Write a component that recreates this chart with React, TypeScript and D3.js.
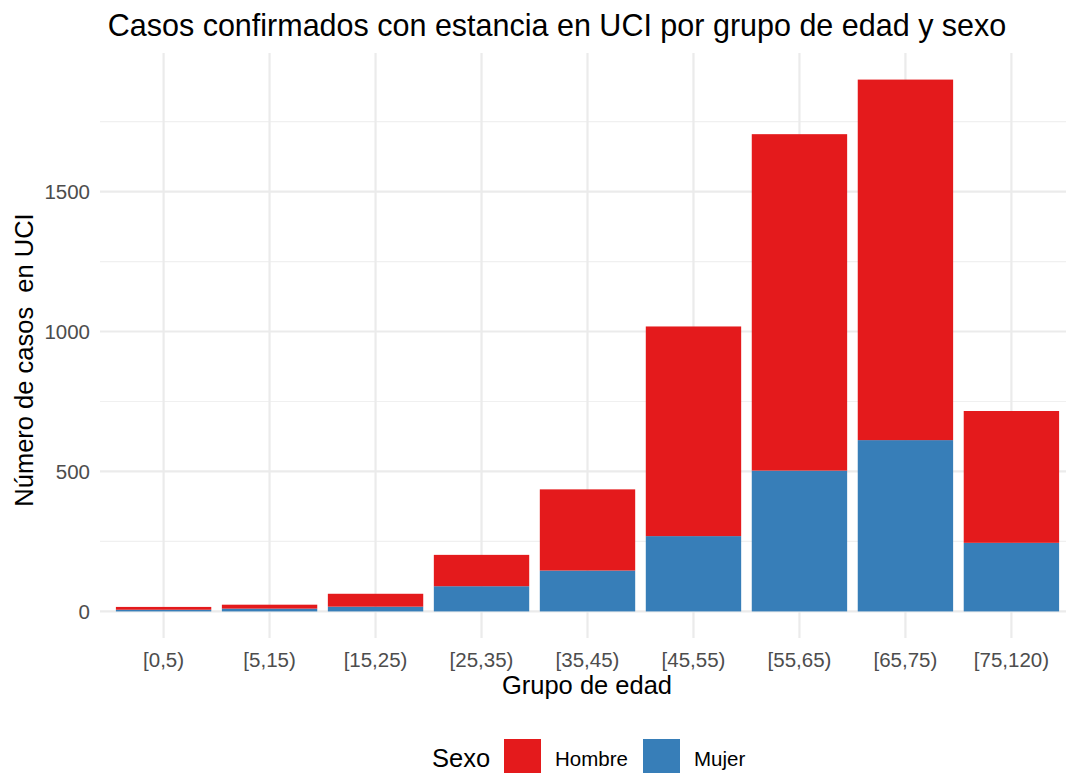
import React, { useEffect, useRef } from "react";
import * as d3 from "d3";

const grupos = ["[0,5)", "[5,15)", "[15,25)", "[25,35)", "[35,45)", "[45,55)", "[55,65)", "[65,75)", "[75,120)"];
const mujer = [6, 10, 17, 90, 146, 269, 503, 612, 245];
const hombre = [10, 14, 46, 112, 290, 749, 1202, 1288, 471];
const sexos = ["Mujer", "Hombre"];
const colores = ["#377EB8", "#E41A1C"];
const yTicks = [0, 500, 1000, 1500];
const yMinor = [250, 750, 1250, 1750];

const W = 1066;
const H = 773;
const font = "Liberation Sans, Arial, sans-serif";

function App() {
  const ref = useRef<SVGSVGElement>(null);

  useEffect(() => {
    const svg = d3.select(ref.current);
    svg.selectAll("*").remove();

    const left = 100, right = 1075, top = 53, bottom = 638;

    // band with ggplot-style expansion (0.6 units each side)
    const n = grupos.length;
    const step = (right - left) / (n - 1 + 1.2);
    const x = d3.scaleBand<string>()
      .domain(grupos)
      .range([left + 0.1 * step, right - 0.1 * step])
      .paddingInner(0.1)
      .paddingOuter(0.05);

    const totals = grupos.map((_, i) => mujer[i] + hombre[i]);
    const maxV = d3.max(totals) as number;
    const y = d3.scaleLinear()
      .domain([-0.05 * maxV, maxV * 1.05])
      .range([bottom, top]);

    const g = svg.append("g");

    // grid
    g.selectAll(".minor").data(yMinor).enter().append("line")
      .attr("x1", left).attr("x2", right)
      .attr("y1", d => y(d)).attr("y2", d => y(d))
      .attr("stroke", "#f0f0f0").attr("stroke-width", 1.2);
    g.selectAll(".major").data(yTicks).enter().append("line")
      .attr("x1", left).attr("x2", right)
      .attr("y1", d => y(d)).attr("y2", d => y(d))
      .attr("stroke", "#ebebeb").attr("stroke-width", 2.2);
    g.selectAll(".vmajor").data(grupos).enter().append("line")
      .attr("x1", d => (x(d) as number) + x.bandwidth() / 2)
      .attr("x2", d => (x(d) as number) + x.bandwidth() / 2)
      .attr("y1", top).attr("y2", bottom)
      .attr("stroke", "#ebebeb").attr("stroke-width", 2.2);

    // stacked bars
    const rows = grupos.map((gr, i) => ({ grupo: gr, Mujer: mujer[i], Hombre: hombre[i] }));
    const stack = d3.stack<any>().keys(sexos)(rows);
    const color = d3.scaleOrdinal<string, string>().domain(sexos).range(colores);

    g.selectAll(".serie").data(stack).enter().append("g")
      .attr("fill", d => color(d.key))
      .selectAll("rect").data(d => d).enter().append("rect")
      .attr("x", d => x(d.data.grupo) as number)
      .attr("width", x.bandwidth())
      .attr("y", d => y(d[1]))
      .attr("height", d => y(d[0]) - y(d[1]));

    // y tick labels
    g.selectAll(".ylab").data(yTicks).enter().append("text")
      .attr("x", left - 10).attr("y", d => y(d))
      .attr("dy", "0.36em").attr("text-anchor", "end")
      .attr("font-family", font).attr("font-size", 20.5).attr("fill", "#4d4d4d")
      .text(d => d);

    // x tick labels
    g.selectAll(".xlab").data(grupos).enter().append("text")
      .attr("x", d => (x(d) as number) + x.bandwidth() / 2)
      .attr("y", 667).attr("text-anchor", "middle")
      .attr("font-family", font).attr("font-size", 20.5).attr("fill", "#4d4d4d")
      .text(d => d);

    // titles
    svg.append("text").attr("x", 557).attr("y", 36).attr("text-anchor", "middle")
      .attr("font-family", font).attr("font-size", 30.5).attr("fill", "#000")
      .text("Casos confirmados con estancia en UCI por grupo de edad y sexo");
    svg.append("text").attr("x", 587).attr("y", 694).attr("text-anchor", "middle")
      .attr("font-family", font).attr("font-size", 25.5).attr("fill", "#000")
      .text("Grupo de edad");
    svg.append("text")
      .attr("transform", `translate(33,360) rotate(-90)`)
      .attr("text-anchor", "middle")
      .style("white-space", "pre")
      .attr("font-family", font).attr("font-size", 25.5).attr("fill", "#000")
      .text("Número de casos  en UCI");

    // legend
    const leg = svg.append("g");
    leg.append("text").attr("x", 432).attr("y", 767)
      .attr("font-family", font).attr("font-size", 25.5).attr("fill", "#000").text("Sexo");
    const items = [
      { label: "Hombre", color: color("Hombre"), x: 504 },
      { label: "Mujer", color: color("Mujer"), x: 643 },
    ];
    items.forEach(it => {
      leg.append("rect").attr("x", it.x).attr("y", 739).attr("width", 37).attr("height", 37).attr("fill", it.color);
      leg.append("text").attr("x", it.x + 51).attr("y", 766)
        .attr("font-family", font).attr("font-size", 20.5).attr("fill", "#000").text(it.label);
    });
  }, []);

  return (
    <svg ref={ref} width={W} height={H}
      style={{ position: "absolute", left: 0, top: 0, background: "#fff" }} />
  );
}

export default App;
